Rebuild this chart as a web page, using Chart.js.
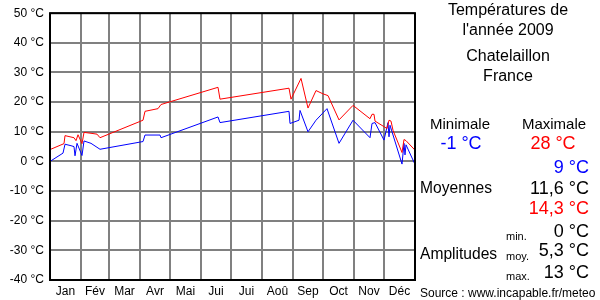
<!DOCTYPE html>
<html>
<head>
<meta charset="utf-8">
<script src="https://cdn.jsdelivr.net/npm/chart.js@4"></script>
<style>
  body { margin: 0; background: #fff; }
  #wrap { width: 600px; height: 300px; }
</style>
</head>
<body>
<div id="wrap"><canvas id="tempChart" width="600" height="300"></canvas></div>
<script>
// jour de l'annee (0..365) et temperatures relevees
const monthNames = ["Jan", "Fév", "Mar", "Avr", "Mai", "Jui", "Jui", "Aoû", "Sep", "Oct", "Nov", "Déc"];
const monthStarts = [0, 31, 59, 90, 120, 151, 181, 212, 243, 273, 304, 334, 365];
const yTicks = [50, 40, 30, 20, 10, 0, -10, -20, -30, -40];

const maxDays = [0, 14, 15, 24, 26, 28, 32, 34, 43, 47, 50, 93, 95, 108, 111, 168, 170,
  239, 241, 251, 258, 266, 273, 278, 289, 303, 320, 322, 324, 325, 337, 339, 341, 343,
  352, 354, 356, 365];
const maxTemps = [4, 6, 8.7, 8, 7, 9, 6, 9.8, 9.4, 9.2, 8, 13.9, 16.9, 17.8, 19.2, 25, 21,
  24.7, 21, 28, 18, 23.9, 22.8, 22.2, 14, 18.9, 14.4, 15.9, 15.9, 13.6, 11.1, 13.9, 13.6, 10.5,
  3, 7.4, 7, 3.8];

const minDays = [0, 13, 15, 21, 24, 25, 27, 32, 34, 41, 50, 93, 95, 110, 111, 168, 170,
  239, 240, 249, 250, 258, 266, 277, 289, 303, 320, 322, 325, 334, 338, 339, 340,
  352, 354, 355, 356, 365];
const minTemps = [0, 2.8, 5.8, 5.3, 5, 1.9, 6.1, 2, 6.9, 6.1, 4.1, 6.7, 8.9, 8.9, 8, 15, 13.1,
  16.9, 12.8, 13.9, 17.2, 10, 13.9, 17.8, 6.1, 13.9, 8, 12.8, 13.1, 7.2, 13.1, 8.3, 12.2,
  -0.9, 6.1, 2.2, 5.6, -1];

let monthMids = [];
for (let i = 0; i < 12; i++) {
    monthMids.push((monthStarts[i] + monthStarts[i + 1]) / 2);
}

const FONT = "'Liberation Sans', Arial, sans-serif";

const panelText = {
    id: "panelText",
    afterDraw(chart) {
        let ctx = chart.ctx;
        let a = chart.chartArea;
        ctx.save();
        // cadre noir
        ctx.strokeStyle = "#000";
        ctx.lineWidth = 2;
        ctx.strokeRect(a.left, a.top, a.right - a.left, a.bottom - a.top);

        ctx.textBaseline = "middle";
        function txt(s, x, y, size, color, align) {
            ctx.font = size + "px " + FONT;
            ctx.fillStyle = color;
            ctx.textAlign = align;
            ctx.fillText(s, x, y);
        }
        txt("Températures de", 508, 11, 16, "#000", "center");
        txt("l'année 2009", 508, 31, 16, "#000", "center");
        txt("Chatelaillon", 508, 57, 16, "#000", "center");
        txt("France", 508, 77, 16, "#000", "center");

        txt("Minimale", 460, 125, 15, "#000", "center");
        txt("Maximale", 554, 125, 15, "#000", "center");
        txt("-1 °C", 461, 144, 18, "#0000ff", "center");
        txt("28 °C", 553, 144, 18, "#ff0000", "center");

        txt("9 °C", 589, 168, 18, "#0000ff", "right");
        txt("Moyennes", 420, 189, 15.6, "#000", "left");
        txt("11,6 °C", 589, 189, 18, "#000", "right");
        txt("14,3 °C", 589, 209, 18, "#ff0000", "right");

        txt("min.", 506, 237, 11, "#000", "left");
        txt("0 °C", 589, 232, 18, "#000", "right");
        txt("Amplitudes", 420, 255, 15.6, "#000", "left");
        txt("moy.", 506, 257, 11, "#000", "left");
        txt("5,3 °C", 589, 251, 18, "#000", "right");
        txt("max.", 506, 277, 11, "#000", "left");
        txt("13 °C", 589, 273, 18, "#000", "right");

        txt("Source : www.incapable.fr/meteo", 420, 294, 12, "#000", "left");
        ctx.restore();
    }
};

let ctx = document.getElementById("tempChart").getContext("2d");
new Chart(ctx, {
    type: "line",
    data: {
        datasets: [
            {
                label: "Maximale",
                data: maxDays.map((d, i) => ({ x: d, y: maxTemps[i] })),
                borderColor: "#ff0000",
                borderWidth: 1,
                pointRadius: 0,
                tension: 0
            },
            {
                label: "Minimale",
                data: minDays.map((d, i) => ({ x: d, y: minTemps[i] })),
                borderColor: "#0000ff",
                borderWidth: 1,
                pointRadius: 0,
                tension: 0
            }
        ]
    },
    options: {
        responsive: false,
        animation: false,
        devicePixelRatio: 1,
        layout: { padding: { top: 10, right: 185, left: 0, bottom: 0 } },
        plugins: {
            legend: { display: false },
            tooltip: { enabled: false }
        },
        scales: {
            x: {
                type: "linear",
                min: 0,
                max: 365,
                afterFit: (scale) => { scale.height = 20; },
                afterBuildTicks: (scale) => {
                    let vals = monthStarts.concat(monthMids).sort((a, b) => a - b);
                    scale.ticks = vals.map(v => ({ value: v }));
                },
                border: { display: false },
                grid: {
                    drawTicks: false,
                    lineWidth: 2,
                    color: (c) => (c.tick && monthStarts.includes(c.tick.value)) ? "#808080" : "rgba(0,0,0,0)"
                },
                ticks: {
                    autoSkip: false,
                    maxRotation: 0,
                    padding: 4,
                    color: "#000",
                    font: { family: FONT, size: 12 },
                    callback: (v) => {
                        let i = monthMids.indexOf(v);
                        return i >= 0 ? monthNames[i] : "";
                    }
                }
            },
            y: {
                min: -40,
                max: 50,
                afterFit: (scale) => { scale.width = 50; },
                afterBuildTicks: (scale) => {
                    scale.ticks = yTicks.map(v => ({ value: v }));
                },
                border: { display: false },
                grid: { drawTicks: false, lineWidth: 2, color: "#808080" },
                ticks: {
                    padding: 6,
                    color: "#000",
                    font: { family: FONT, size: 12 },
                    callback: (v) => v + " °C"
                }
            }
        }
    },
    plugins: [panelText]
});
</script>
</body>
</html>
